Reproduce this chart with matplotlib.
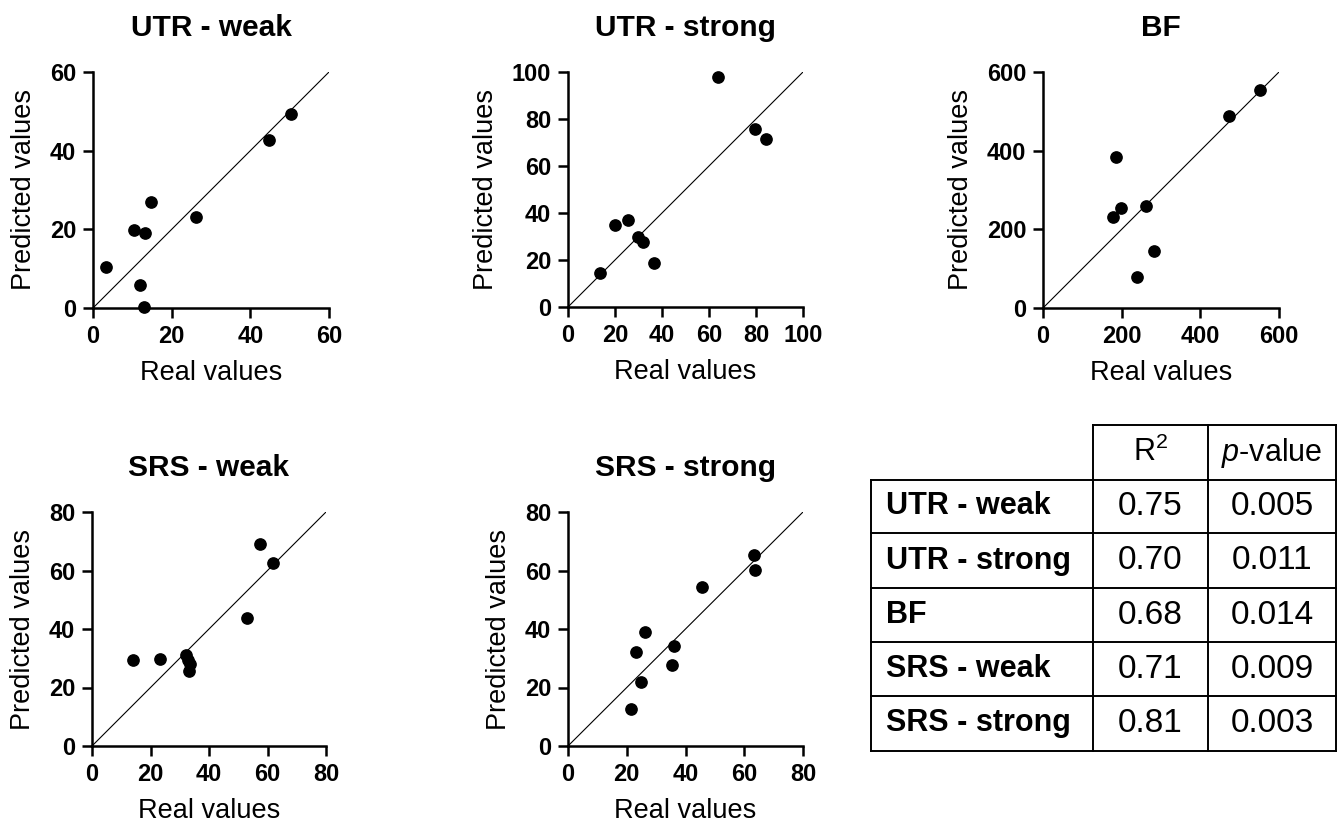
import matplotlib
matplotlib.use('Agg')
import matplotlib.pyplot as plt

plt.rcParams['font.family'] = ['Liberation Sans', 'DejaVu Sans']
plt.rcParams['mathtext.fontset'] = 'custom'
plt.rcParams['mathtext.rm'] = 'Liberation Sans'
plt.rcParams['mathtext.it'] = 'Liberation Sans:italic'

# values
utr_weak_real = [3.2, 10.5, 13.1, 14.7, 11.9, 13.0, 26.1, 44.7, 50.3]
utr_weak_pred = [10.4, 19.8, 19.1, 27.0, 5.8, 0.3, 23.2, 42.8, 49.4]

utr_strong_real = [13.5, 19.8, 25.7, 29.7, 32.0, 36.6, 63.9, 79.4, 84.2]
utr_strong_pred = [14.5, 34.9, 37.0, 29.9, 27.7, 18.9, 97.7, 75.8, 71.4]

bf_real = [184.7, 178.0, 199.2, 261.9, 282.2, 238.1, 472.9, 552.5]
bf_pred = [383.7, 230.7, 254.4, 259.4, 144.5, 79.4, 487.6, 555.2]

srs_weak_real = [13.9, 23.4, 32.2, 33.6, 33.3, 32.9, 53.0, 57.4, 61.8]
srs_weak_pred = [29.4, 29.7, 31.1, 28.0, 25.7, 29.3, 43.8, 69.2, 62.4]

srs_strong_real = [21.6, 24.9, 23.1, 26.1, 35.4, 36.2, 45.6, 63.2, 63.8]
srs_strong_pred = [12.6, 21.8, 32.3, 38.9, 27.8, 34.1, 54.4, 65.4, 60.1]

titles = ['UTR - weak', 'UTR - strong', 'BF', 'SRS - weak', 'SRS - strong']
limits = [60, 100, 600, 80, 80]
steps = [20, 20, 200, 20, 20]

table_rows = ['UTR - weak', 'UTR - strong', 'BF', 'SRS - weak', 'SRS - strong']
r2_values = ['0.75', '0.70', '0.68', '0.71', '0.81']
p_values = ['0.005', '0.011', '0.014', '0.009', '0.003']

W, H = 1341, 826
fig = plt.figure(figsize=(W / 100, H / 100), dpi=100)


def px_axes(x0, x1, y0, y1):
    # y0 = top pixel, y1 = bottom pixel
    return fig.add_axes([x0 / W, (H - y1) / H, (x1 - x0) / W, (y1 - y0) / H])


boxes = [(93, 329, 72, 308), (568, 803, 72, 307), (1043, 1279, 72, 308),
         (92, 326, 512, 746), (568, 803, 512, 746)]
data = [(utr_weak_real, utr_weak_pred), (utr_strong_real, utr_strong_pred),
        (bf_real, bf_pred), (srs_weak_real, srs_weak_pred),
        (srs_strong_real, srs_strong_pred)]

for box, (xr, yp), title, lim, step in zip(boxes, data, titles, limits, steps):
    ax = px_axes(*box)
    ax.plot([0, lim], [0, lim], color='black', lw=0.8, zorder=1)
    ax.scatter(xr, yp, s=66, color='black', zorder=3, clip_on=False)
    ax.set_xlim(0, lim)
    ax.set_ylim(0, lim)
    ticks = list(range(0, lim + 1, step))
    ax.set_xticks(ticks)
    ax.set_yticks(ticks)
    for side in ['top', 'right']:
        ax.spines[side].set_visible(False)
    for side in ['left', 'bottom']:
        ax.spines[side].set_linewidth(1.8)
    ax.tick_params(length=7, width=1.8, labelsize=17, pad=5)
    for lab in ax.get_xticklabels() + ax.get_yticklabels():
        lab.set_fontweight('bold')
    ax.set_xlabel('Real values', fontsize=19.5, labelpad=9)
    ax.set_ylabel('Predicted values', fontsize=19.5, labelpad=9)
    ax.set_title(title, fontsize=21.5, fontweight='bold', pad=26)

# table drawn on a full-figure overlay in pixel units
tab = fig.add_axes([0, 0, 1, 1])
tab.set_xlim(0, W)
tab.set_ylim(H, 0)
tab.axis('off')

cols = [871, 1093, 1208, 1336]
rows = [425, 480, 533, 588, 642, 696, 751]
lw = 1.4
# header border (only over value columns)
tab.plot([cols[1], cols[3]], [rows[0], rows[0]], color='black', lw=lw)
for r in rows[1:]:
    tab.plot([cols[0], cols[3]], [r, r], color='black', lw=lw)
tab.plot([cols[0], cols[0]], [rows[1], rows[-1]], color='black', lw=lw)
for c in cols[1:]:
    tab.plot([c, c], [rows[0], rows[-1]], color='black', lw=lw)

c_r2 = (cols[1] + cols[2]) / 2
c_p = (cols[2] + cols[3]) / 2
hy = (rows[0] + rows[1]) / 2
tab.text(c_r2, hy, 'R$^2$', fontsize=22, ha='center', va='center')
tab.text(c_p, hy, '$\\mathit{p}$-value', fontsize=22, ha='center', va='center')
for i, (name, r2, pv) in enumerate(zip(table_rows, r2_values, p_values)):
    cy = (rows[i + 1] + rows[i + 2]) / 2
    tab.text(cols[0] + 15, cy, name, fontsize=22, fontweight='bold', ha='left', va='center')
    tab.text(c_r2, cy, r2, fontsize=24, ha='center', va='center')
    tab.text(c_p, cy, pv, fontsize=24, ha='center', va='center')

fig.savefig('out.png', dpi=100)
